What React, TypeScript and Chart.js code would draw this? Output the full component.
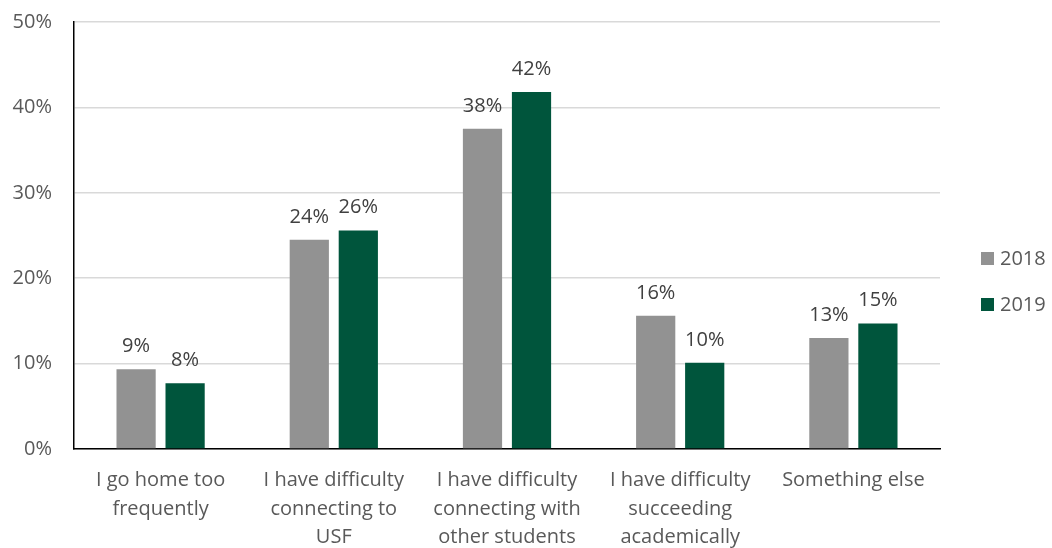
import React, { useEffect, useRef } from "react";
import { Chart, registerables } from "chart.js";

Chart.register(...registerables);

const categories: string[][] = [
  ["I go home too", "frequently"],
  ["I have difficulty", "connecting to", "USF"],
  ["I have difficulty", "connecting with", "other students"],
  ["I have difficulty", "succeeding", "academically"],
  ["Something else"],
];
const series2018: number[] = [9.35, 24.5, 37.5, 15.6, 13.0];
const series2019: number[] = [7.7, 25.6, 41.8, 10.1, 14.7];
const labels2018: string[] = ["9%", "24%", "38%", "16%", "13%"];
const labels2019: string[] = ["8%", "26%", "42%", "10%", "15%"];
const seriesNames: string[] = ["2018", "2019"];
const yTicks: number[] = [0, 10, 20, 30, 40, 50];

const FONT = "'Open Sans', Lato, sans-serif";
const FSIZE = 20;
const GRAY = "#929292";
const GREEN = "#00553C";
const TEXT = "#595959";

const valueLabels = {
  id: "valueLabels",
  afterDatasetsDraw(chart: any) {
    const ctx = chart.ctx;
    const lbls = [labels2018, labels2019];
    ctx.save();
    ctx.font = `${FSIZE}px ${FONT}`;
    ctx.fillStyle = "#404040";
    ctx.textAlign = "center";
    ctx.textBaseline = "alphabetic";
    chart.data.datasets.forEach((ds: any, di: number) => {
      const meta = chart.getDatasetMeta(di);
      meta.data.forEach((bar: any, i: number) => {
        ctx.fillText(lbls[di][i], bar.x, bar.y - 17);
      });
    });
    ctx.restore();
  },
};

const customLegend = {
  id: "customLegend",
  afterDraw(chart: any) {
    const ctx = chart.ctx;
    const colors = [GRAY, GREEN];
    const ys = [258, 304];
    ctx.save();
    ctx.font = `${FSIZE}px ${FONT}`;
    ctx.textBaseline = "middle";
    ctx.textAlign = "left";
    seriesNames.forEach((name, i) => {
      ctx.fillStyle = colors[i];
      ctx.fillRect(981, ys[i] - 6, 13, 13);
      ctx.fillStyle = TEXT;
      ctx.fillText(name, 1000, ys[i] + 1);
    });
    ctx.restore();
  },
};

export default function App() {
  const ref = useRef<HTMLCanvasElement>(null);
  useEffect(() => {
    document.body.style.margin = "0";
    const chart = new Chart(ref.current!, {
      type: "bar",
      data: {
        labels: categories,
        datasets: [
          {
            label: seriesNames[0],
            data: series2018,
            backgroundColor: GRAY,
            categoryPercentage: 0.566,
            barPercentage: 0.8,
          },
          {
            label: seriesNames[1],
            data: series2019,
            backgroundColor: GREEN,
            categoryPercentage: 0.566,
            barPercentage: 0.8,
          },
        ],
      },
      options: {
        animation: false,
        responsive: false,
        maintainAspectRatio: false,
        layout: { padding: { top: 22, right: 112, left: 0, bottom: 0 } },
        plugins: {
          legend: { display: false },
          tooltip: { enabled: false },
        },
        scales: {
          x: {
            grid: { display: false, drawTicks: false },
            border: { color: "#000000", width: 1.5 },
            ticks: {
              color: TEXT,
              font: { family: FONT, size: FSIZE, lineHeight: 1.43 },
              padding: 17,
              maxRotation: 0,
              autoSkip: false,
            },
            afterFit(scale: any) {
              scale.height = 99;
              scale.paddingTop = 0;
              scale.paddingBottom = 0;
            },
          },
          y: {
            min: 0,
            max: 50,
            afterBuildTicks(scale: any) {
              scale.ticks = yTicks.map((v) => ({ value: v }));
            },
            grid: { color: "#d9d9d9", lineWidth: 1.5, drawTicks: false },
            border: { color: "#000000", width: 1.5 },
            ticks: {
              color: TEXT,
              font: { family: FONT, size: FSIZE },
              padding: 22,
              callback: (v: any) => `${v}%`,
            },
            afterFit(scale: any) {
              scale.width = 74;
              scale.paddingTop = 0;
              scale.paddingBottom = 0;
            },
          },
        },
      },
      plugins: [valueLabels, customLegend],
    });
    return () => chart.destroy();
  }, []);
  return (
    <div style={{ position: "absolute", left: 0, top: 0, width: 1052, height: 548, background: "#fff" }}>
      <canvas ref={ref} width={1052} height={548} style={{ width: 1052, height: 548 }} />
    </div>
  );
}
